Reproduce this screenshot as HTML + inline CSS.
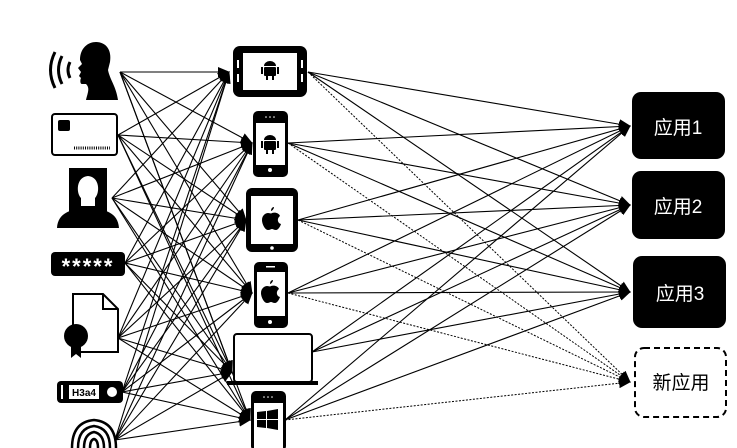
<!DOCTYPE html>
<html><head><meta charset="utf-8"><style>
html,body{margin:0;padding:0;background:#fff;}
svg{display:block;}
</style></head><body>
<svg width="737" height="448" viewBox="0 0 737 448" xmlns="http://www.w3.org/2000/svg">
<defs>
<marker id="a" markerWidth="12" markerHeight="10" refX="11" refY="5" orient="auto" markerUnits="userSpaceOnUse"><path d="M0,0 L12,5 L0,10 z" fill="#000"/></marker>
</defs>
<g stroke="#000" stroke-width="1.1" marker-end="url(#a)" fill="none">
<line x1="120" y1="72" x2="229" y2="72"/><line x1="120" y1="72" x2="252" y2="143"/><line x1="120" y1="72" x2="246" y2="220"/><line x1="120" y1="72" x2="252" y2="293"/><line x1="120" y1="72" x2="232" y2="372"/><line x1="120" y1="72" x2="250" y2="420"/>
<line x1="118" y1="135" x2="229" y2="72"/><line x1="118" y1="135" x2="252" y2="143"/><line x1="118" y1="135" x2="246" y2="220"/><line x1="118" y1="135" x2="252" y2="293"/><line x1="118" y1="135" x2="232" y2="372"/><line x1="118" y1="135" x2="250" y2="420"/>
<line x1="112" y1="198" x2="229" y2="72"/><line x1="112" y1="198" x2="252" y2="143"/><line x1="112" y1="198" x2="246" y2="220"/><line x1="112" y1="198" x2="252" y2="293"/><line x1="112" y1="198" x2="232" y2="372"/><line x1="112" y1="198" x2="250" y2="420"/>
<line x1="125" y1="263" x2="229" y2="72"/><line x1="125" y1="263" x2="252" y2="143"/><line x1="125" y1="263" x2="246" y2="220"/><line x1="125" y1="263" x2="252" y2="293"/><line x1="125" y1="263" x2="232" y2="372"/><line x1="125" y1="263" x2="250" y2="420"/>
<line x1="118" y1="338" x2="229" y2="72"/><line x1="118" y1="338" x2="252" y2="143"/><line x1="118" y1="338" x2="246" y2="220"/><line x1="118" y1="338" x2="252" y2="293"/><line x1="118" y1="338" x2="232" y2="372"/><line x1="118" y1="338" x2="250" y2="420"/>
<line x1="122" y1="392" x2="229" y2="72"/><line x1="122" y1="392" x2="252" y2="143"/><line x1="122" y1="392" x2="246" y2="220"/><line x1="122" y1="392" x2="252" y2="293"/><line x1="122" y1="392" x2="232" y2="372"/><line x1="122" y1="392" x2="250" y2="420"/>
<line x1="115" y1="440" x2="229" y2="72"/><line x1="115" y1="440" x2="252" y2="143"/><line x1="115" y1="440" x2="246" y2="220"/><line x1="115" y1="440" x2="252" y2="293"/><line x1="115" y1="440" x2="232" y2="372"/><line x1="115" y1="440" x2="250" y2="420"/>
<line x1="308" y1="72" x2="630" y2="126"/><line x1="308" y1="72" x2="630" y2="205"/><line x1="308" y1="72" x2="630" y2="292"/>
<line x1="288" y1="143" x2="630" y2="126"/><line x1="288" y1="143" x2="630" y2="205"/><line x1="288" y1="143" x2="630" y2="292"/>
<line x1="298" y1="220" x2="630" y2="126"/><line x1="298" y1="220" x2="630" y2="205"/><line x1="298" y1="220" x2="630" y2="292"/>
<line x1="288" y1="293" x2="630" y2="126"/><line x1="288" y1="293" x2="630" y2="205"/><line x1="288" y1="293" x2="630" y2="292"/>
<line x1="312" y1="352" x2="630" y2="126"/><line x1="312" y1="352" x2="630" y2="205"/><line x1="312" y1="352" x2="630" y2="292"/>
<line x1="285" y1="420" x2="630" y2="126"/><line x1="285" y1="420" x2="630" y2="205"/><line x1="285" y1="420" x2="630" y2="292"/>
</g>
<g stroke="#000" stroke-width="1" stroke-dasharray="2,1.5" marker-end="url(#a)" fill="none">
<line x1="308" y1="72" x2="630" y2="382"/><line x1="288" y1="143" x2="630" y2="382"/><line x1="298" y1="220" x2="630" y2="382"/><line x1="288" y1="293" x2="630" y2="382"/><line x1="285" y1="420" x2="630" y2="382"/>
</g>

<g fill="#000">
<path d="M80,60 C80,48 88,42 96,42 C106,42 112,50 110,62 L108,70 C110,80 116,86 118,100 L86,100 C88,92 90,88 86,84 L82,84 C80,84 80,80 81,78 L79,76 L81,72 L78,68 L82,64 Z"/>
</g>
<g fill="none" stroke="#000" stroke-width="3">
<path d="M70,62 Q66,70 70,78"/><path d="M62,56 Q55,70 62,84"/><path d="M55,52 Q46,70 55,88"/>
</g>
<rect x="52" y="114" width="65" height="41" rx="3" fill="#fff" stroke="#000" stroke-width="2"/>
<rect x="58" y="120" width="12" height="11" rx="2" fill="#000"/>
<line x1="74" y1="148" x2="110" y2="148" stroke="#000" stroke-dasharray="1,1.2" stroke-width="3"/>
<rect x="69" y="168" width="38" height="58" fill="#000"/>
<path d="M88,176 C76,177 76,193 81,198 L81,206 L95,206 L95,198 C100,193 100,177 88,176 Z" fill="#fff"/>
<path d="M57,228 C58,212 72,210 82,208 L94,208 C104,210 118,212 119,228 Z" fill="#000"/>
<rect x="51" y="252" width="74" height="24" rx="4" fill="#000"/>
<text x="88" y="274" font-family="Liberation Sans, sans-serif" font-size="22" font-weight="bold" fill="#fff" text-anchor="middle" letter-spacing="2">*****</text>
<path d="M73,294 L103,294 L118,309 L118,352 L73,352 Z" fill="#fff" stroke="#000" stroke-width="2"/>
<path d="M103,294 L103,309 L118,309" fill="none" stroke="#000" stroke-width="2"/>
<circle cx="76" cy="336" r="12" fill="#000"/>
<path d="M71,346 L71,358 L76,354 L81,358 L81,346 Z" fill="#000"/>
<rect x="57" y="381" width="66" height="22" rx="4" fill="#000"/>
<rect x="69" y="385" width="30" height="14" fill="#fff"/>
<text x="84" y="396" font-family="Liberation Sans, sans-serif" font-size="10" font-weight="bold" fill="#000" text-anchor="middle">H3a4</text>
<rect x="61" y="385" width="2" height="14" fill="#fff"/>
<circle cx="112" cy="392" r="5" fill="#fff"/>
<g fill="none" stroke="#000" stroke-width="2.5">
<path d="M72,448 Q72,422 94,420 Q116,422 116,448"/>
<path d="M78,448 Q78,428 94,426 Q110,428 110,448"/>
<path d="M84,448 Q84,434 94,432 Q104,434 104,448"/>
<path d="M90,448 Q90,440 94,439 Q98,440 98,448"/>
</g>

<rect x="233" y="46" width="74" height="51" rx="7" fill="#000"/>
<rect x="243" y="53" width="54" height="37" fill="#fff"/>
<rect x="237" y="60" width="2" height="8" fill="#fff"/><rect x="237" y="74" width="2" height="8" fill="#fff"/>
<rect x="301" y="60" width="2" height="8" fill="#fff"/><rect x="301" y="74" width="2" height="8" fill="#fff"/>
<g fill="#000"><path d="M264,66 a6,5 0 0 1 12,0 z"/><rect x="264" y="67" width="12" height="9" rx="1"/><rect x="261" y="67" width="2" height="7"/><rect x="277" y="67" width="2" height="7"/><rect x="266" y="76" width="2" height="4"/><rect x="272" y="76" width="2" height="4"/></g>
<rect x="253" y="111" width="35" height="66" rx="5" fill="#000"/>
<rect x="256" y="123" width="29" height="42" fill="#fff"/>
<circle cx="270" cy="170" r="2" fill="#fff"/>
<g fill="#fff"><circle cx="266" cy="117" r="0.8"/><circle cx="270" cy="117" r="0.8"/><circle cx="274" cy="117" r="0.8"/></g>
<g fill="#000"><path d="M264,140 a6,5 0 0 1 12,0 z"/><rect x="264" y="141" width="12" height="9" rx="1"/><rect x="261" y="141" width="2" height="7"/><rect x="277" y="141" width="2" height="7"/><rect x="266" y="150" width="2" height="4"/><rect x="272" y="150" width="2" height="4"/></g>
<rect x="246" y="188" width="52" height="64" rx="6" fill="#000"/>
<rect x="251" y="196" width="42" height="48" fill="#fff"/>
<circle cx="272" cy="248" r="1.8" fill="#fff"/>
<path d="M272,213 c3,-1 7,0 8,3 c-3,2 -3,7 1,8 c-1,3 -3,6 -5,6 c-2,0 -3,-1 -4,-1 c-1,0 -2,1 -4,1 c-3,0 -6,-6 -6,-10 c0,-5 4,-7 6,-7 c2,0 3,1 4,0 z M274,207 c0,2 -2,4 -3,4 c0,-2 1,-4 3,-4 z" fill="#000"/>
<rect x="254" y="262" width="34" height="66" rx="5" fill="#000"/>
<rect x="257" y="272" width="28" height="44" fill="#fff"/>
<rect x="266" y="266" width="9" height="1.5" fill="#fff"/>
<circle cx="270" cy="322" r="2" fill="#fff"/>
<path d="M271,286 c3,-1 7,0 8,3 c-3,2 -3,7 1,8 c-1,3 -3,6 -5,6 c-2,0 -3,-1 -4,-1 c-1,0 -2,1 -4,1 c-3,0 -6,-6 -6,-10 c0,-5 4,-7 6,-7 c2,0 3,1 4,0 z M273,280 c0,2 -2,4 -3,4 c0,-2 1,-4 3,-4 z" fill="#000"/>
<rect x="234" y="334" width="78" height="48" rx="3" fill="#fff" stroke="#000" stroke-width="2"/>
<rect x="227" y="381" width="91" height="4" fill="#000"/>
<rect x="251" y="391" width="35" height="60" rx="5" fill="#000"/>
<rect x="254" y="403" width="29" height="45" fill="#fff"/>
<g fill="#fff"><circle cx="264" cy="397" r="0.8"/><circle cx="268" cy="397" r="0.8"/><circle cx="272" cy="397" r="0.8"/></g>
<g fill="#000"><path d="M257,412 L266,411 L266,419 L257,419 Z"/><path d="M267,411 L278,409 L278,419 L267,419 Z"/><path d="M257,420 L266,420 L266,428 L257,427 Z"/><path d="M267,420 L278,420 L278,430 L267,428 Z"/></g>

<rect x="632" y="92" width="93" height="67" rx="9" fill="#000"/>
<rect x="632" y="171" width="93" height="68" rx="9" fill="#000"/>
<rect x="633" y="256" width="93" height="72" rx="9" fill="#000"/>
<rect x="635" y="348" width="91" height="69" rx="9" fill="#fff" stroke="#000" stroke-width="2" stroke-dasharray="6,4"/>
<g font-family="Liberation Sans, 'Noto Sans CJK SC', sans-serif" font-size="19" text-anchor="middle">
<text x="678" y="134" fill="#fff">应用1</text>
<text x="678" y="213" fill="#fff">应用2</text>
<text x="680" y="300" fill="#fff">应用3</text>
<text x="681" y="389" fill="#000">新应用</text>
</g>
</svg>
</body></html>
